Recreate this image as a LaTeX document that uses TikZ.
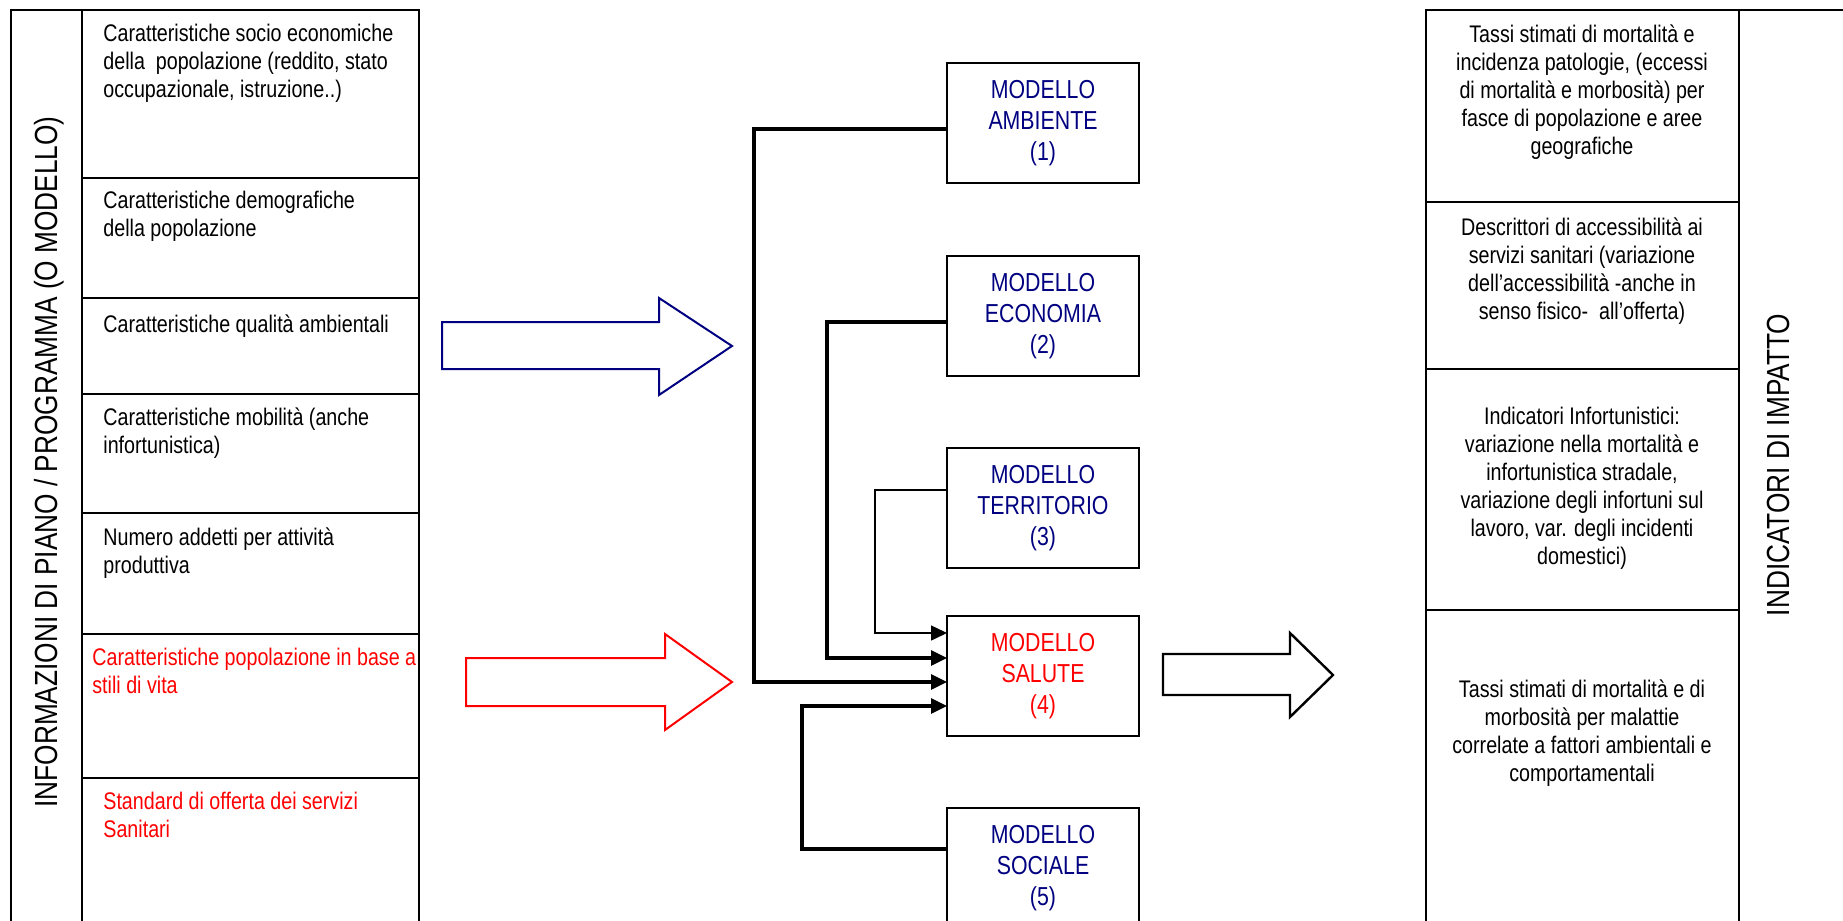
\documentclass[tikz,border=0pt]{standalone}
\usepackage{fontspec}
\setmainfont[FakeStretch=0.82]{Liberation Sans}
\usetikzlibrary{calc}
\usetikzlibrary{arrows.meta}
\definecolor{navy}{RGB}{0,0,128}
\definecolor{alert}{RGB}{255,0,0}
\tikzset{
	cell/.style={
		draw,
		rectangle,
		line width=1.1pt,
		anchor=north west,
		inner sep=0pt,
		outer sep=0pt,
	},
	celltext/.style={
		anchor=north west,
		inner sep=0pt,
		align=left,
		font=\fontsize{12}{14}\selectfont,
		execute at begin node=\strut,
	},
	imptext/.style={
		anchor=north,
		inner sep=0pt,
		align=center,
		font=\fontsize{12}{14}\selectfont,
		execute at begin node=\strut,
	},
	model/.style={
		draw,
		rectangle,
		line width=1.1pt,
		minimum width=96pt,
		minimum height=60pt,
		inner sep=0pt,
		outer sep=0pt,
		align=center,
		text=navy,
		font=\fontsize{13}{15.5}\selectfont,
	},
	sidelabel/.style={
		rotate=90,
		inner sep=0pt,
		font=\fontsize{16}{19}\selectfont,
	},
	feed/.style={
		line width=1.6pt,
		-{Triangle[length=8pt,width=7.5pt]}
	},
	thinfeed/.style={
		line width=0.75pt,
		-{Triangle[length=8pt,width=7.5pt]}
	},
	bigarrow/.style={
		line width=1pt,
		line join=miter,
	},
}

\begin{document}
\begin{tikzpicture}[x=0.5pt,y=-0.5pt]

		\path[use as bounding box, fill=white] (0,0) rectangle (1843,921);

%********* informazioni di piano

		\node[cell, minimum width=35.5pt, minimum height=460pt] 	(strip) at (11,10) {};
		\node[sidelabel] 		(info) at (49,462) {INFORMAZIONI DI PIANO / PROGRAMMA (O MODELLO)};

		\node[cell, minimum width=168.5pt, minimum height=84pt] 	(c1) at (82,10) {};
		\node[cell, minimum width=168.5pt, minimum height=60pt] 	(c2) at (82,178) {};
		\node[cell, minimum width=168.5pt, minimum height=48pt] 	(c3) at (82,298) {};
		\node[cell, minimum width=168.5pt, minimum height=59.5pt] 	(c4) at (82,394) {};
		\node[cell, minimum width=168.5pt, minimum height=60.5pt] 	(c5) at (82,513) {};
		\node[cell, minimum width=168.5pt, minimum height=72pt] 	(c6) at (82,634) {};
		\node[cell, minimum width=168.5pt, minimum height=76pt] 	(c7) at (82,778) {};

		\node[celltext] 		(t1) at (103,24) {Caratteristiche socio economiche\\della~ popolazione (reddito, stato\\occupazionale, istruzione..)};
		\node[celltext] 		(t2) at (103,191) {Caratteristiche demografiche\\della popolazione};
		\node[celltext] 		(t3) at (103,312) {Caratteristiche qualità ambientali};
		\node[celltext] 		(t4) at (103,407) {Caratteristiche mobilità (anche\\infortunistica)};
		\node[celltext] 		(t5) at (103,527) {Numero addetti per attività\\produttiva};
		\node[celltext, text=alert] 	(t6) at (92,648) {Caratteristiche popolazione in base a\\stili di vita};
		\node[celltext, text=alert] 	(t7) at (103,792) {Standard di offerta dei servizi\\Sanitari};

		\draw[bigarrow, draw=navy] 	(442,322) -- (659,322) -- (659,298) -- (732,346) -- (659,395) -- (659,369) -- (442,369) -- cycle;
		\draw[bigarrow, draw=alert] 	(466,658) -- (665,658) -- (665,634) -- (732,682) -- (665,730) -- (665,706) -- (466,706) -- cycle;

%********* modelli

		\node[model] 			(amb) at (1043,123) {MODELLO\\AMBIENTE\\(1)};
		\node[model] 			(eco) at (1043,316) {MODELLO\\ECONOMIA\\(2)};
		\node[model] 			(ter) at (1043,508) {MODELLO\\TERRITORIO\\(3)};
		\node[model, text=alert] 	(sal) at (1043,676) {MODELLO\\SALUTE\\(4)};
		\node[model] 			(soc) at (1043,868) {MODELLO\\SOCIALE\\(5)};

		\coordinate (amb1) at ($(amb.north west)+(0,66)$);
		\coordinate (eco1) at ($(eco.north west)+(0,66)$);
		\coordinate (ter1) at ($(ter.north west)+(0,42)$);
		\coordinate (soc1) at ($(soc.north west)+(0,41)$);

		\coordinate (sal1) at ($(sal.north west)+(0,17)$);
		\coordinate (sal2) at ($(sal.north west)+(0,42)$);
		\coordinate (sal3) at ($(sal.north west)+(0,66)$);
		\coordinate (sal4) at ($(sal.north west)+(0,90)$);

		\draw[feed] 			(amb1) -- (754,129) -- (754,682) -- (sal3);
		\draw[feed] 			(eco1) -- (827,322) -- (827,658) -- (sal2);
		\draw[thinfeed] 		(ter1) -- (875,490) -- (875,633) -- (sal1);
		\draw[feed] 			(soc1) -- (802,849) -- (802,706) -- (sal4);

		\draw[bigarrow, line width=1.2pt] 	(1163,654) -- (1290,654) -- (1290,633) -- (1333,675) -- (1290,717) -- (1290,695) -- (1163,695) -- cycle;

%********* indicatori di impatto

		\node[cell, minimum width=156.5pt, minimum height=96pt] 	(r1) at (1426,10) {};
		\node[cell, minimum width=156.5pt, minimum height=83.5pt] 	(r2) at (1426,202) {};
		\node[cell, minimum width=156.5pt, minimum height=120.5pt] 	(r3) at (1426,369) {};
		\node[cell, minimum width=156.5pt, minimum height=160pt] 	(r4) at (1426,610) {};
		\node[cell, minimum width=60.5pt, minimum height=460pt] 	(rstrip) at (1739,10) {};
		\node[sidelabel] 		(ind) at (1778,465) {INDICATORI DI IMPATTO};

		\node[imptext] 		(i1) at (1582,24) {Tassi stimati di mortalità e\\incidenza patologie, (eccessi\\di mortalità e morbosità) per\\fasce di popolazione e aree\\geografiche};
		\node[imptext] 		(i2) at (1582,217) {Descrittori di accessibilità ai\\servizi sanitari (variazione\\dell'accessibilità -anche in\\senso fisico-~ all'offerta)};
		\node[imptext] 		(i3) at (1582,407) {Indicatori Infortunistici:\\variazione nella mortalità e\\infortunistica stradale,\\variazione degli infortuni sul\\lavoro, var. degli incidenti\\domestici)};
		\node[imptext] 		(i4) at (1582,679) {Tassi stimati di mortalità e di\\morbosità per malattie\\correlate a fattori ambientali e\\comportamentali};

	\end{tikzpicture}
\end{document}
